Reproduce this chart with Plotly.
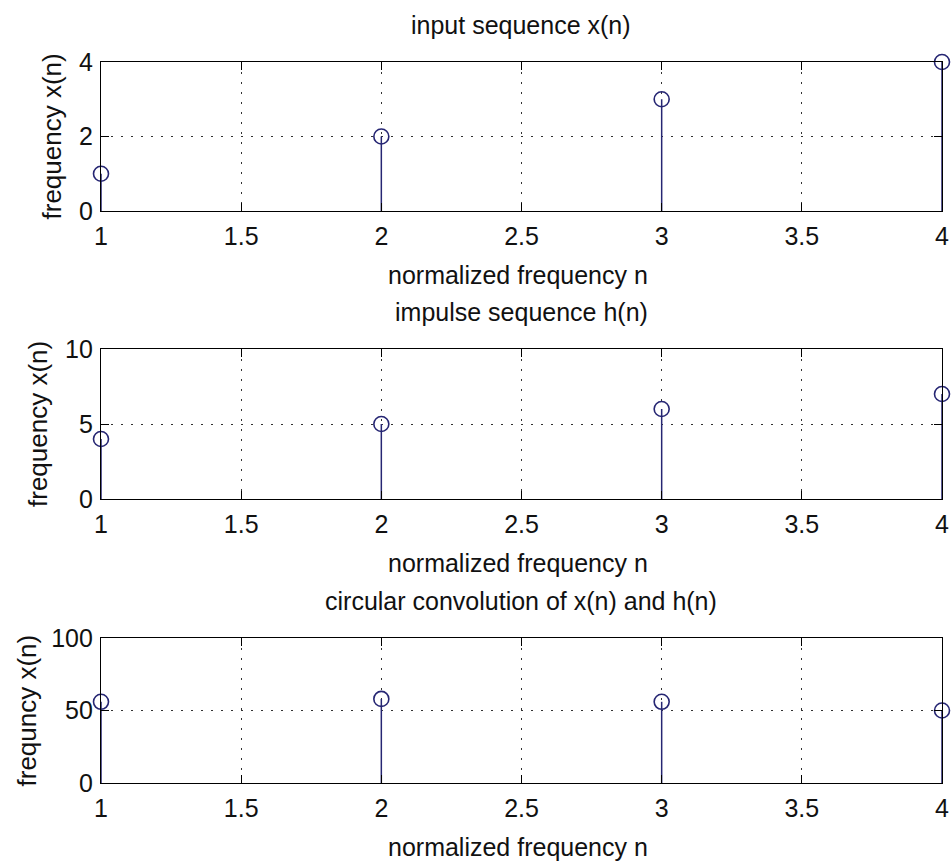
import plotly.graph_objects as go

# Sequences
n = [1, 2, 3, 4]
x_seq = [1, 2, 3, 4]
h_seq = [4, 5, 6, 7]
y_conv = [56, 58, 56, 50]

titles = ["input sequence x(n)", "impulse sequence h(n)",
          "circular convolution of x(n) and h(n)"]
ylabels = ["frequency x(n)", "frequency x(n)", "frequncy x(n)"]
xlabel = "normalized frequency n"
x_ticks = [1, 1.5, 2, 2.5, 3, 3.5, 4]
y_ticks = [[0, 2, 4], [0, 5, 10], [0, 50, 100]]

W, H = 951, 868
FONT = "Liberation Sans Narrow, Arial Narrow, Liberation Sans, sans-serif"
FS = 25
STEM = "#262673"

# panel boxes in pixels: (top, bottom)
panels = [(62, 211), (349, 499), (638, 783)]
left_px, right_px = 101, 942
ylabel_x = [52, 38, 26]


def px(xp):
    return xp / W


def py(yp):
    return 1 - yp / H


fig = go.Figure()
series = [x_seq, h_seq, y_conv]
annotations = []
layout_axes = {}

for i, (vals, (top, bot)) in enumerate(zip(series, panels)):
    k = "" if i == 0 else str(i + 1)
    xa, ya = "x" + k, "y" + k
    # stems
    sx, sy = [], []
    for a, b in zip(n, vals):
        sx += [a, a, None]
        sy += [0, b, None]
    fig.add_trace(go.Scatter(x=sx, y=sy, mode="lines", xaxis=xa, yaxis=ya,
                             line=dict(color=STEM, width=1.5),
                             showlegend=False, hoverinfo="skip",
                             cliponaxis=False))
    fig.add_trace(go.Scatter(x=n, y=vals, mode="markers", xaxis=xa, yaxis=ya,
                             marker=dict(symbol="circle-open", size=15,
                                         color=STEM, line=dict(width=1.6)),
                             showlegend=False, cliponaxis=False))
    ax_common = dict(showline=True, mirror="ticks", linecolor="black",
                     linewidth=1.3, ticks="inside", ticklen=8,
                     tickcolor="black", tickwidth=1.3, automargin=False,
                     showgrid=True, gridcolor="#333333", gridwidth=1,
                     griddash="2px,8px", zeroline=False,
                     tickfont=dict(family=FONT, size=FS, color="#111111"))
    layout_axes["xaxis" + k] = dict(
        ax_common, domain=[px(left_px), px(right_px)], range=[1, 4],
        tickvals=x_ticks, anchor=ya, ticklabelstandoff=3)
    yt = y_ticks[i]
    layout_axes["yaxis" + k] = dict(
        ax_common, domain=[py(bot), py(top)], range=[yt[0], yt[-1]],
        tickvals=yt, anchor=xa, ticklabelstandoff=2)

    annotations.append(dict(text=titles[i], x=px(521), y=py(top - 37),
                            xref="paper", yref="paper", showarrow=False,
                            xanchor="center", yanchor="middle",
                            font=dict(family=FONT, size=FS, color="#111111")))
    annotations.append(dict(text=xlabel, x=px(518), y=py(bot + 64),
                            xref="paper", yref="paper", showarrow=False,
                            xanchor="center", yanchor="middle",
                            font=dict(family=FONT, size=FS, color="#111111")))
    annotations.append(dict(text=ylabels[i], x=px(ylabel_x[i]),
                            y=py((top + bot) / 2), textangle=-90,
                            xref="paper", yref="paper", showarrow=False,
                            xanchor="center", yanchor="middle",
                            font=dict(family=FONT, size=26, color="#111111")))

fig.update_layout(width=W, height=H, margin=dict(l=0, r=0, t=0, b=0),
                  paper_bgcolor="white", plot_bgcolor="white",
                  annotations=annotations, **layout_axes)

fig.write_html("out.html")
